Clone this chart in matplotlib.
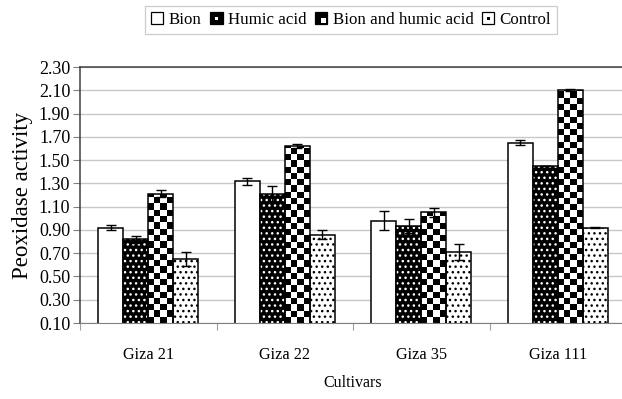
import numpy as np
import matplotlib.pyplot as plt
from matplotlib.patches import Rectangle
from matplotlib.legend_handler import HandlerBase

plt.rcParams['font.family'] = ['Liberation Serif', 'DejaVu Serif']
plt.rcParams['hatch.linewidth'] = 1.0

# data
cultivars = ['Giza 21', 'Giza 22', 'Giza 35', 'Giza 111']
treatments = ['Bion', 'Humic acid', 'Bion and humic acid', 'Control']
bion = [0.92, 1.32, 0.98, 1.65]
humic = [0.82, 1.21, 0.93, 1.45]
bion_humic = [1.21, 1.62, 1.05, 2.10]
control = [0.65, 0.86, 0.71, 0.92]
bion_err = [0.02, 0.03, 0.08, 0.02]
humic_err = [0.03, 0.07, 0.06, 0.0]
bion_humic_err = [0.03, 0.02, 0.04, 0.01]
control_err = [0.06, 0.04, 0.07, 0.005]
yticks = [0.10, 0.30, 0.50, 0.70, 0.90, 1.10, 1.30, 1.50, 1.70, 1.90, 2.10, 2.30]

YMIN, YMAX = 0.10, 2.30
W = 0.183


class SquareHandler(HandlerBase):
    """Small square legend keys, like the Excel ones"""
    def __init__(self, kind):
        super().__init__()
        self.kind = kind

    def create_artists(self, legend, orig_handle, xdescent, ydescent,
                       width, height, fontsize, trans):
        s = min(width, height)
        x0 = -xdescent + (width - s) / 2
        y0 = -ydescent + (height - s) / 2
        dark = self.kind in ('dotdark', 'checker')
        arts = [Rectangle((x0, y0), s, s, facecolor='black' if dark else 'white',
                          edgecolor='black', lw=0.9, transform=trans)]
        if self.kind == 'checker':
            arts.append(Rectangle((x0 + s * 0.5, y0 + s * 0.12), s * 0.38, s * 0.38,
                                  facecolor='white', edgecolor='none', transform=trans))
        elif self.kind in ('dotdark', 'dotlight'):
            c = 'white' if dark else 'black'
            arts.append(Rectangle((x0 + s * 0.38, y0 + s * 0.38), s * 0.24, s * 0.24,
                                  facecolor=c, edgecolor='none', transform=trans))
        return arts


def main() -> None:
    fig = plt.figure(figsize=(6.22, 3.99), dpi=100)
    ax = fig.add_axes([80 / 622, 1 - 323 / 399, 546 / 622, 256 / 399])

    x = np.arange(len(cultivars))
    series = [(bion, bion_err), (humic, humic_err),
              (bion_humic, bion_humic_err), (control, control_err)]

    for i, (vals, errs) in enumerate(series):
        xs = x + (i - 1.5) * W
        if i == 0:
            ax.bar(xs, vals, W, color='white', edgecolor='black', lw=1.1, zorder=2)
        elif i == 1:
            ax.bar(xs, vals, W, color='black', edgecolor='white', lw=0,
                   hatch='...', zorder=2)
            ax.bar(xs, vals, W, fill=False, edgecolor='black', lw=1.1, zorder=3)
        elif i == 2:
            bars = ax.bar(xs, vals, W, color='white', edgecolor='none', lw=0, zorder=2)
            dx = W / 4
            dy = 6.25 * (YMAX - YMIN) / 256
            for b, v in zip(bars, vals):
                nx = 5
                ny = int(np.ceil((v - YMIN) / dy)) + 1
                grid = (np.add.outer(np.arange(ny), np.arange(nx)) % 2).astype(float)
                im = ax.imshow(grid, cmap='gray', vmin=0, vmax=1, origin='lower',
                               extent=(b.get_x(), b.get_x() + nx * dx, YMIN, YMIN + ny * dy),
                               aspect='auto', interpolation='nearest', zorder=2.5)
                im.set_clip_path(b)
            ax.bar(xs, vals, W, fill=False, edgecolor='black', lw=1.1, zorder=3)
        else:
            ax.bar(xs, vals, W, color='white', edgecolor='black', lw=0,
                   hatch='...', zorder=2)
            ax.bar(xs, vals, W, fill=False, edgecolor='black', lw=1.1, zorder=3)
        ax.errorbar(xs, vals, yerr=errs, fmt='none', ecolor='black',
                    elinewidth=1.0, capsize=3.5, capthick=1.0, zorder=4)

    ax.set_xlim(-0.5, len(cultivars) - 0.5)
    ax.set_ylim(YMIN, YMAX)
    ax.set_aspect('auto')

    ax.set_yticks(yticks)
    ax.set_yticklabels([f'{t:.2f}' for t in yticks], fontsize=13)
    ax.yaxis.grid(True, color='#c8c8c8', lw=1.0, zorder=0)
    ax.set_axisbelow(True)
    ax.tick_params(axis='y', length=5, width=0.8, color='#808080', pad=2)

    ax.set_xticks(x)
    ax.set_xticklabels(cultivars, fontsize=11.7)
    ax.set_xticks(np.arange(len(cultivars) + 1) - 0.5, minor=True)
    ax.tick_params(axis='x', which='major', length=0, pad=17)
    ax.tick_params(axis='x', which='minor', length=5, width=0.8, color='#a0a0a0')

    for side in ['left', 'top']:
        ax.spines[side].set_color('#404040')
        ax.spines[side].set_linewidth(1.1)
    ax.spines['bottom'].set_color('#808080')
    ax.spines['right'].set_visible(False)

    ax.set_ylabel('Peoxidase activity', fontsize=16.5, labelpad=4)
    ax.set_xlabel('Cultivars', fontsize=11.5, labelpad=9)

    kinds = ['plain', 'dotdark', 'checker', 'dotlight']
    handles = [Rectangle((0, 0), 1, 1) for _ in treatments]
    leg = fig.legend(handles, treatments, loc='center', ncol=4,
                     bbox_to_anchor=(351 / 622, 1 - 20 / 399),
                     handler_map={h: SquareHandler(k) for h, k in zip(handles, kinds)},
                     fontsize=12.2, handlelength=0.75, handleheight=0.75,
                     handletextpad=0.3, columnspacing=0.5, borderpad=0.35,
                     fancybox=False, frameon=True)
    leg.get_frame().set_edgecolor('#c0c0c0')
    leg.get_frame().set_linewidth(0.9)

    fig.savefig('out.png', dpi=100)


if __name__ == '__main__':
    main()
